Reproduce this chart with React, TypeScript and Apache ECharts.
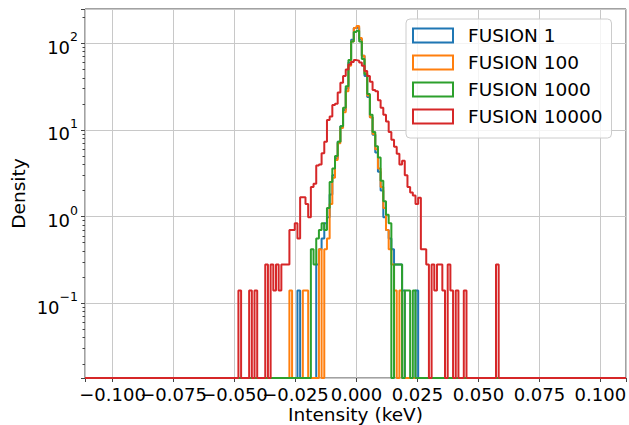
import React, { useEffect, useRef } from 'react';
import * as echarts from 'echarts';

// Histogram binning (keV)
const binStart = -0.11;
const binWidth = 0.0011;
const binCount = 200;

// Axis limits
const xMin = -0.1113;
const xMax = 0.1105;
const yMin = 0.0137;
const yMax = 249;

const seriesNames = ['FUSION 1', 'FUSION 100', 'FUSION 1000', 'FUSION 10000'];
const seriesColors = ['#1f77b4', '#ff7f0e', '#2ca02c', '#d62728'];

// Densities per bin, starting at bin index "first"
const fusion1First = 78;
const fusion1Density = [
  0.14, 0, 0, 0, 0, 0, 0, 0.28, 0.42, 0.56, 0.84, 0.98, 1.8, 3.0, 4.7, 7.3, 11, 17, 30, 60,
  110, 150, 152, 112, 72, 42, 24, 14, 8.8, 5.5, 3.3, 2.0, 0.98, 0.7, 0.56, 0.42, 0.28, 0.28,
  0.28, 0.14, 0, 0, 0, 0, 0.14,
];

const fusion100First = 75;
const fusion100Density = [
  0.14, 0, 0, 0, 0, 0.14, 0.14, 0, 0, 0, 0, 0.42, 0, 0.42, 0.56, 1.4, 2.8, 4.5, 7.0, 10.5,
  16, 28, 55, 105, 150, 158, 115, 72, 45, 25, 14, 9, 6, 3.6, 2.2, 1.26, 0.7, 0.42, 0.28,
  0.14, 0, 0.14,
];

const fusion1000First = 83;
const fusion1000Density = [
  0.42, 0.28, 0.56, 0.7, 0.84, 0.7, 1.26, 2.5, 3.6, 5.0, 7.3, 11, 18, 32, 64, 105, 135, 140,
  105, 66, 44, 26, 15, 9.5, 6.5, 4.8, 2.6, 1.5, 1.05, 0.84, 0, 0.28, 0.28, 0.28, 0, 0.14,
  0.14, 0, 0.14,
];

const fusion10000First = 56;
const fusion10000Density = [
  0.14, 0, 0, 0, 0.14, 0, 0.14, 0, 0, 0, 0.28, 0, 0.28, 0.14, 0.28, 0.14, 0.28, 0.28, 0.28,
  0.7, 0.7, 0.84, 0.56, 1.67, 1.67, 1.4, 0.98, 2.2, 2.4, 3.9, 4.0, 5.4, 7.3, 13, 14.3, 19.4,
  20, 27, 35, 42, 50, 57, 61, 64, 63, 60, 55, 48, 42, 36, 29, 28, 22, 18, 15, 12.5, 9.5,
  7.7, 6.4, 5.3, 4.0, 4.4, 3.0, 2.2, 1.9, 1.75, 1.4, 1.65, 0.42, 0.42, 0.28, 0, 0.28, 0.14,
  0.28, 0.28, 0.14, 0, 0.28, 0.14, 0, 0.14, 0, 0, 0.14, 0, 0, 0, 0, 0, 0, 0, 0, 0, 0, 0,
  0.28,
];

const seriesFirst = [fusion1First, fusion100First, fusion1000First, fusion10000First];
const seriesDensity = [fusion1Density, fusion100Density, fusion1000Density, fusion10000Density];

const xTickStep = 0.025;

const FONT = 'DejaVu Sans';

function stepPoints(first: number, dens: number[]): number[][] {
  const full = new Array(binCount).fill(0);
  dens.forEach((d, i) => {
    full[first + i] = d;
  });
  const pts: number[][] = [[xMin, yMin]];
  for (let k = 0; k < binCount; k++) {
    const x0 = binStart + k * binWidth;
    const x1 = x0 + binWidth;
    const v = full[k] > 0 ? full[k] : yMin;
    pts.push([x0, v], [x1, v]);
  }
  pts.push([xMax, yMin]);
  return pts;
}

export default function App() {
  const ref = useRef<HTMLDivElement>(null);
  useEffect(() => {
    if (!ref.current) return;
    const chart = echarts.init(ref.current, null, { renderer: 'svg' });
    const option: any = {
      animation: false,
      grid: {
        left: 85,
        right: 3,
        top: 9,
        bottom: 47,
        outerBoundsMode: 'none',
        containLabel: false,
        show: true,
        borderColor: '#444',
        borderWidth: 1,
        backgroundColor: 'transparent',
      },
      xAxis: {
        type: 'value',
        min: xMin,
        max: xMax,
        minInterval: xTickStep,
        maxInterval: xTickStep,
        name: 'Intensity (keV)',
        nameLocation: 'middle',
        nameGap: 27,
        nameMoveOverlap: false,
        nameTextStyle: { fontFamily: FONT, fontSize: 18.5, color: '#000' },
        axisLine: { show: false, onZero: false },
        axisTick: { show: true, length: 4, lineStyle: { color: '#444' } },
        splitLine: { show: true, lineStyle: { color: '#c8c8c8', width: 1 } },
        axisLabel: {
          margin: 7,
          fontFamily: FONT,
          fontSize: 18,
          color: '#000',
          showMinLabel: true,
          showMaxLabel: true,
          formatter: (v: number) => {
            const r = v / xTickStep;
            if (Math.abs(r - Math.round(r)) > 1e-6) return '';
            return v.toFixed(3).replace('-', '−');
          },
        },
      },
      yAxis: {
        type: 'log',
        logBase: 10,
        min: yMin,
        max: yMax,
        name: 'Density',
        nameLocation: 'middle',
        nameGap: 57,
        nameMoveOverlap: false,
        nameTextStyle: { fontFamily: FONT, fontSize: 18.5, color: '#000' },
        axisLine: { show: false, onZero: false },
        axisTick: { show: true, length: 4, lineStyle: { color: '#444' } },
        minorTick: { show: true, splitNumber: 9, length: 2.5, lineStyle: { color: '#444' } },
        splitLine: { show: true, lineStyle: { color: '#c8c8c8', width: 1 } },
        axisLabel: {
          margin: 7,
          fontFamily: FONT,
          color: '#000',
          formatter: (v: number) => {
            const l = Math.log10(v);
            const n = Math.round(l);
            if (Math.abs(l - n) > 1e-6) return '';
            return '{b|10}{s|' + (n < 0 ? '−' + String(-n) : String(n)) + '}';
          },
          rich: {
            b: { fontFamily: FONT, fontSize: 18, color: '#000', lineHeight: 26, verticalAlign: 'bottom' },
            s: { fontFamily: FONT, fontSize: 12.5, color: '#000', lineHeight: 14, verticalAlign: 'top' },
          },
        },
      },
      legend: {
        orient: 'vertical',
        left: 406,
        top: 19,
        padding: [7, 9, 12, 6],
        itemWidth: 40,
        itemHeight: 14,
        itemGap: 8,
        selectedMode: false,
        backgroundColor: 'rgba(255,255,255,0.8)',
        borderColor: '#cccccc',
        borderWidth: 1,
        borderRadius: 4,
        textStyle: { fontFamily: FONT, fontSize: 18.5, color: '#000', padding: [0, 0, 0, 10] },
        data: seriesNames.map((n, i) => ({
          name: n,
          icon: 'rect',
          itemStyle: { color: 'rgba(0,0,0,0)', borderColor: seriesColors[i], borderWidth: 2 },
        })),
      },
      series: seriesNames.map((n, i) => ({
        name: n,
        type: 'line',
        data: stepPoints(seriesFirst[i], seriesDensity[i]),
        showSymbol: false,
        symbol: 'none',
        clip: true,
        color: seriesColors[i],
        lineStyle: { color: seriesColors[i], width: 2 },
      })),
    };
    chart.setOption(option);
    return () => chart.dispose();
  }, []);
  return (
    <div
      ref={ref}
      style={{ position: 'fixed', left: 0, top: 0, width: 629, height: 425, background: '#fff' }}
    />
  );
}
